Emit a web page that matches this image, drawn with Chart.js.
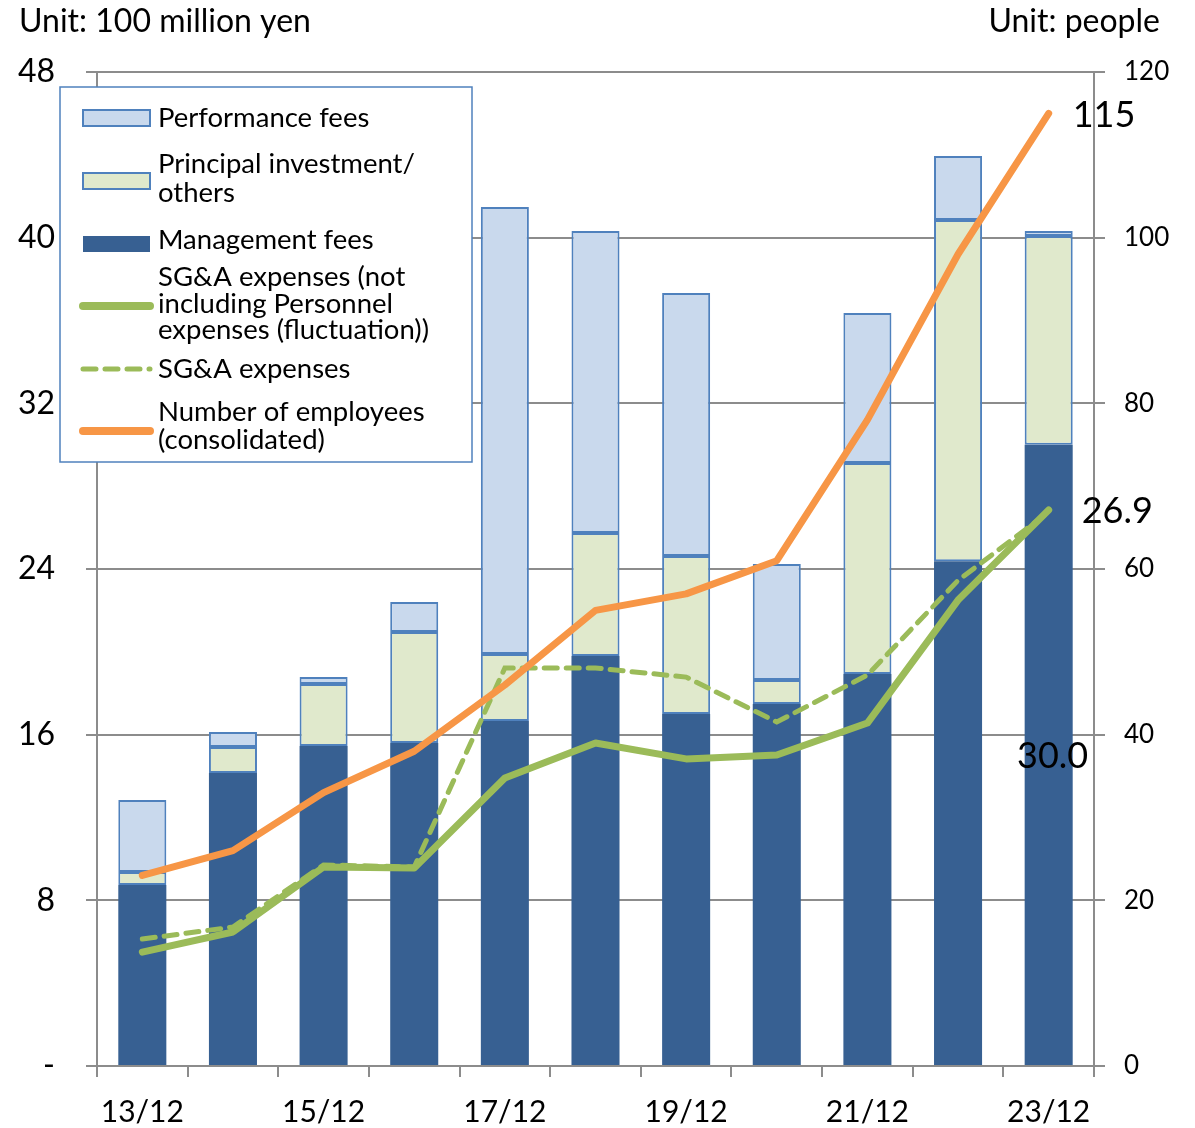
<!DOCTYPE html>
<html>
<head>
<meta charset="utf-8">
<script src="https://cdn.jsdelivr.net/npm/chart.js@4/dist/chart.umd.min.js"></script>
<style>
  html, body { margin: 0; padding: 0; background: #fff; }
  #wrap { width: 1195px; height: 1128px; position: relative; }
</style>
</head>
<body>
<div id="wrap"><canvas id="myChart"></canvas></div>
<script>
// categories and values
const labels = ['13/12', '14/12', '15/12', '16/12', '17/12', '18/12', '19/12', '20/12', '21/12', '22/12', '23/12'];
const managementFees = [8.74, 14.15, 15.45, 15.6, 16.66, 19.8, 17.0, 17.48, 18.93, 24.38, 30.0];
const principalOthers = [0.63, 1.25, 3.0, 5.36, 3.24, 5.94, 7.63, 1.16, 10.19, 16.47, 10.08];
const performanceFees = [3.48, 0.73, 0.33, 1.45, 21.58, 14.58, 12.7, 5.6, 7.24, 3.09, 0.24];
const sgaExPersonnel = [5.5, 6.47, 9.61, 9.56, 13.91, 15.6, 14.83, 15.02, 16.56, 22.5, 26.85];
const sgaExpenses = [6.13, 6.71, 9.71, 9.61, 19.22, 19.22, 18.78, 16.61, 18.88, 23.45, 26.75];
const employees = [23, 26, 33, 38, 46, 55, 57, 61, 78, 98, 115];
const leftTicks = [0, 8, 16, 24, 32, 40, 48];
const rightTicks = [0, 20, 40, 60, 80, 100, 120];

const FONT = 'Lato, "Open Sans", sans-serif';
const perfColor = '#C9D9ED';
const princColor = '#E0E9CC';
const mgmtColor = '#376092';
const edgeColor = '#4F81BD';
const greenColor = '#9BBB59';
const orangeColor = '#F79646';
const gridColor = '#8C8C8C';

const legendItems = [
    { kind: 'box', fill: perfColor, edge: true, y: 118, lines: ['Performance fees'], ys: [118] },
    { kind: 'box', fill: princColor, edge: true, y: 181, lines: ['Principal investment/', 'others'], ys: [164, 193] },
    { kind: 'box', fill: mgmtColor, edge: false, y: 244, lines: ['Management fees'], ys: [240] },
    { kind: 'line', color: greenColor, dash: [], width: 8, y: 306, lines: ['SG&A expenses (not', 'including Personnel', 'expenses (fluctuation))'], ys: [277, 304, 330] },
    { kind: 'line', color: greenColor, dash: [13, 9], width: 5, y: 369, lines: ['SG&A expenses'], ys: [369] },
    { kind: 'line', color: orangeColor, dash: [], width: 8, y: 431, lines: ['Number of employees', '(consolidated)'], ys: [412, 440] }
];

const overlay = {
    id: 'overlay',
    afterDraw(chart) {
        const c = chart.ctx;
        c.save();
        c.fillStyle = '#000';
        c.textBaseline = 'middle';
        c.font = '32px ' + FONT;
        c.textAlign = 'left';
        c.fillText('Unit: 100 million yen', 19, 22);
        c.textAlign = 'right';
        c.fillText('Unit: people', 1160, 22);

        // legend box
        c.fillStyle = '#fff';
        c.fillRect(60, 87, 412, 375);
        c.strokeStyle = edgeColor;
        c.lineWidth = 1.5;
        c.strokeRect(60, 87, 412, 375);

        legendItems.forEach(it => {
            if (it.kind === 'box') {
                c.fillStyle = it.fill;
                c.fillRect(83, it.y - 8, 67, 16);
                if (it.edge) {
                    c.strokeStyle = edgeColor;
                    c.lineWidth = 2;
                    c.strokeRect(83, it.y - 8, 67, 16);
                }
            } else {
                c.strokeStyle = it.color;
                c.lineWidth = it.width;
                c.lineCap = 'round';
                c.setLineDash(it.dash);
                c.beginPath();
                c.moveTo(83, it.y);
                c.lineTo(150, it.y);
                c.stroke();
                c.setLineDash([]);
            }
            c.fillStyle = '#000';
            c.font = '27.5px ' + FONT;
            c.textAlign = 'left';
            it.lines.forEach((t, i) => c.fillText(t, 158, it.ys[i]));
        });

        // value labels at the last category
        const last = labels.length - 1;
        c.font = '36px ' + FONT;
        c.fillStyle = '#000';
        const empPt = chart.getDatasetMeta(3).data[last];
        c.textAlign = 'left';
        c.fillText(String(employees[last]), empPt.x + 24, empPt.y + 2);
        const sgaPt = chart.getDatasetMeta(4).data[last];
        c.fillText(sgaExPersonnel[last].toFixed(1), sgaPt.x + 33, sgaPt.y + 1);
        const bar = chart.getDatasetMeta(0).data[last];
        c.textAlign = 'center';
        c.fillText(managementFees[last].toFixed(1), bar.x + 4, (bar.y + bar.base) / 2 + 2);
        c.restore();
    }
};

const ctx = document.getElementById('myChart').getContext('2d');
const myChart = new Chart(ctx, {
    type: 'bar',
    data: {
        labels: labels,
        datasets: [
            {
                label: 'Management fees',
                data: managementFees,
                backgroundColor: mgmtColor,
                borderWidth: 0,
                stack: 'bars',
                order: 5,
                barPercentage: 0.53,
                categoryPercentage: 1
            },
            {
                label: 'Principal investment/others',
                data: principalOthers,
                backgroundColor: princColor,
                borderColor: edgeColor,
                borderWidth: 2,
                borderSkipped: false,
                stack: 'bars',
                order: 5,
                barPercentage: 0.53,
                categoryPercentage: 1
            },
            {
                label: 'Performance fees',
                data: performanceFees,
                backgroundColor: perfColor,
                borderColor: edgeColor,
                borderWidth: 2,
                borderSkipped: false,
                stack: 'bars',
                order: 5,
                barPercentage: 0.53,
                categoryPercentage: 1
            },
            {
                type: 'line',
                label: 'Number of employees (consolidated)',
                data: employees,
                yAxisID: 'y1',
                borderColor: orangeColor,
                borderWidth: 7,
                pointRadius: 0,
                borderCapStyle: 'round',
                borderJoinStyle: 'round',
                tension: 0,
                stack: 'emp',
                order: 0
            },
            {
                type: 'line',
                label: 'SG&A expenses (not including Personnel expenses (fluctuation))',
                data: sgaExPersonnel,
                yAxisID: 'y',
                borderColor: greenColor,
                borderWidth: 7,
                pointRadius: 0,
                borderCapStyle: 'round',
                borderJoinStyle: 'round',
                tension: 0,
                stack: 'sga1',
                order: 1
            },
            {
                type: 'line',
                label: 'SG&A expenses',
                data: sgaExpenses,
                yAxisID: 'y',
                borderColor: greenColor,
                borderWidth: 5,
                borderDash: [13, 9],
                pointRadius: 0,
                borderCapStyle: 'round',
                tension: 0,
                stack: 'sga2',
                order: 2
            }
        ]
    },
    options: {
        responsive: true,
        maintainAspectRatio: false,
        animation: false,
        layout: { padding: { top: 72, left: 0, right: 0, bottom: 0 } },
        plugins: {
            legend: { display: false },
            tooltip: { enabled: false }
        },
        scales: {
            x: {
                stacked: true,
                grid: { drawOnChartArea: false, color: gridColor, lineWidth: 2, tickLength: 11, tickColor: gridColor },
                border: { color: gridColor, width: 2 },
                ticks: {
                    autoSkip: false,
                    maxRotation: 0,
                    padding: 17,
                    color: '#000',
                    font: { family: FONT, size: 30 },
                    callback: (v, i) => (i % 2 === 0 ? labels[i] : '')
                },
                afterFit: s => { s.height = 62; }
            },
            y: {
                stacked: true,
                position: 'left',
                min: leftTicks[0],
                max: leftTicks[leftTicks.length - 1],
                afterBuildTicks: s => { s.ticks = leftTicks.map(v => ({ value: v })); },
                grid: { color: gridColor, lineWidth: 2, tickLength: 11, tickColor: gridColor },
                border: { color: gridColor, width: 2 },
                ticks: {
                    padding: 31,
                    color: '#000',
                    font: { family: FONT, size: 32 },
                    callback: v => (v === 0 ? '-' : v)
                },
                afterFit: s => { s.width = 97; }
            },
            y1: {
                position: 'right',
                min: rightTicks[0],
                max: rightTicks[rightTicks.length - 1],
                afterBuildTicks: s => { s.ticks = rightTicks.map(v => ({ value: v })); },
                grid: { drawOnChartArea: false, color: gridColor, lineWidth: 2, tickLength: 11, tickColor: gridColor },
                border: { color: gridColor, width: 2 },
                ticks: {
                    padding: 19,
                    color: '#000',
                    font: { family: FONT, size: 26 }
                },
                afterFit: s => { s.width = 101; }
            }
        }
    },
    plugins: [overlay]
});
</script>
</body>
</html>
